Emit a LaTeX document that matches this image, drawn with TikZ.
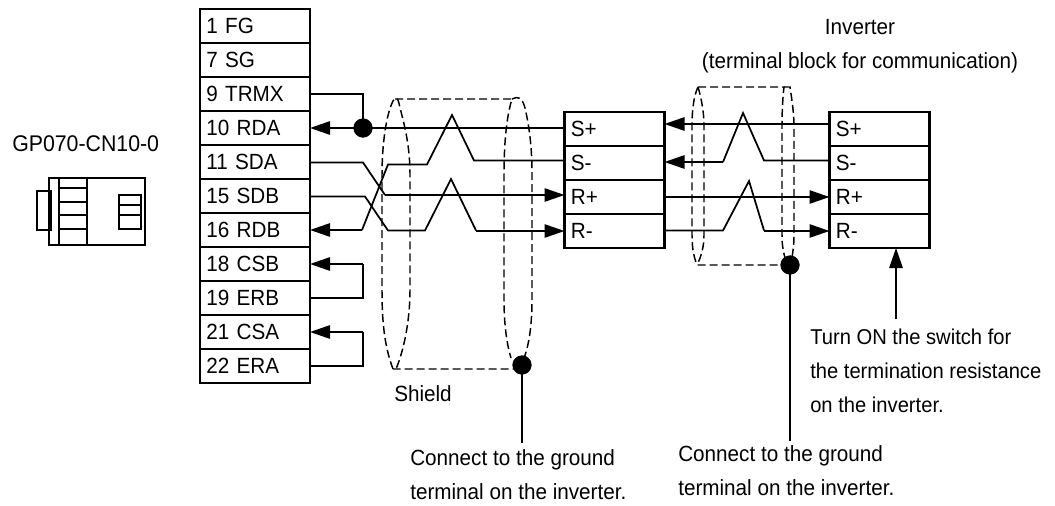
\documentclass[tikz,border=0pt]{standalone}
\usepackage{fontspec}
\setmainfont[FakeStretch=0.94]{Liberation Sans}
\usetikzlibrary{arrows.meta}
\usetikzlibrary{positioning}
\tikzset{auto,>={Triangle[length=15pt,width=10pt]}, x=0.75pt, y=-0.75pt, font=\fontsize{16.5}{25.5}\selectfont}
\tikzstyle{wire} = [line width=1.3pt]
\tikzstyle{pinbox} = [draw, line width=1.7pt, rectangle, minimum height=25.5pt, minimum width=82.5pt, outer sep=0pt, inner sep=4pt, text width=73pt, align=left, text height=11.5pt, text depth=0pt]
\tikzstyle{termbox} = [pinbox, minimum width=75pt, text width=65.5pt]
\tikzstyle{joint} = [draw, circle, fill, minimum size=14pt, inner sep=0pt, outer sep=0pt]
\tikzstyle{output} = [coordinate]
\tikzstyle{label} = [align=left, anchor=north west, inner sep=0pt]
\tikzstyle{shield} = [line width=1.1pt, dash pattern=on 6pt off 3pt]
\newcommand{\twist}[4]{(#1,#3) -- (#1+26,#4) -- (#2,#3)}
\begin{document}
\begin{tikzpicture}
			\useasboundingbox (0,0) rectangle (1055,506);

			% plug
			\node [label, font=\fontsize{17}{25.5}\selectfont] (gp) at (12,135) {GP070-CN10-0};
			\draw [wire] (49,178) rectangle (145,245);
			\draw [wire] (37,191) rectangle (51,230);
			\draw [wire] (59,178) -- (59,245);
			\draw [wire] (87,178) -- (87,245);
			\draw [wire] (59,188) -- (87,188);
			\draw [wire] (59,202) -- (87,202);
			\draw [wire] (59,215) -- (87,215);
			\draw [wire] (59,229) -- (87,229);
			\draw [wire] (119,195) rectangle (141,229);
			\draw [wire] (119,205) -- (141,205);
			\draw [wire] (119,215) -- (141,215);

			% pins of the plug
			\node [pinbox] (fg) at (255,26) {1 FG};
			\node [pinbox, below=0cm of fg] (sg) {7 SG};
			\node [pinbox, below=0cm of sg] (trmx) {9 TRMX};
			\node [pinbox, below=0cm of trmx] (rda) {10 RDA};
			\node [pinbox, below=0cm of rda] (sda) {11 SDA};
			\node [pinbox, below=0cm of sda] (sdb) {15 SDB};
			\node [pinbox, below=0cm of sdb] (rdb) {16 RDB};
			\node [pinbox, below=0cm of rdb] (csb) {18 CSB};
			\node [pinbox, below=0cm of csb] (erb) {19 ERB};
			\node [pinbox, below=0cm of erb] (csa) {21 CSA};
			\node [pinbox, below=0cm of csa] (era) {22 ERA};

			% first terminal block
			\node [termbox] (a_sp) at (614.5,129) {S+};
			\node [termbox, below=0cm of a_sp] (a_sm) {S-};
			\node [termbox, below=0cm of a_sm] (a_rp) {R+};
			\node [termbox, below=0cm of a_rp] (a_rm) {R-};

			% second terminal block
			\node [termbox, right=123.75pt of a_sp] (b_sp) {S+};
			\node [termbox, below=0cm of b_sp] (b_sm) {S-};
			\node [termbox, below=0cm of b_sm] (b_rp) {R+};
			\node [termbox, below=0cm of b_rp] (b_rm) {R-};

			\node [align=center, inner sep=0pt] (inverter) at (860,46) {Inverter\\(terminal block for communication)};

			% wires on the left
			\node [joint] (rda_j) at (363,128) {};
			\draw [wire] (trmx.east) -| (rda_j);
			\draw [wire, ->] (rda_j) -- (rda.east);
			\draw [wire] (rda_j) -- (a_sp.west |- rda_j);

			\draw [wire] (sda.east |- 0,162.5) -- (363,162.5) -- (385,195);
			\draw [wire, ->] (385,195) -- (a_rp.west |- 0,195);

			\draw [wire] (sdb.east |- 0,196.5) -- (365,196.5) -- (388,230.5) -- \twist{425}{476}{230.5}{179};
			\draw [wire, ->] (476,231) -- (a_rm.west);

			\draw [wire, ->] (362,230) -- (rdb.east);
			\draw [wire] (362,230) -- (388,164.5) -- (427,164.5) -- (452,115) -- (474,160.5) -- (a_sm.west |- 0,160.5);

			\draw [wire, ->] (363,264) -- (csb.east);
			\draw [wire] (363,264) |- (erb.east);
			\draw [wire, ->] (363,332) -- (csa.east);
			\draw [wire] (363,332) |- (era.east);

			% wires between the blocks
			\draw [wire, ->] (b_sp.west |- 0,124) -- (a_sp.east |- 0,124);
			\draw [wire, ->] (723,162) -- (a_sm.east |- 0,162);
			\draw [wire] (b_sm.west |- 0,160.5) -- (764,160.5) -- (743,113) -- (723,162);
			\draw [wire, ->] (a_rp.east |- 0,197) -- (b_rp.west |- 0,197);
			\draw [wire] (a_rm.east |- 0,230.5) -- \twist{723}{764}{230.5}{181};
			\draw [wire, ->] (764,231) -- (b_rm.west);

			% shields
			\draw [shield] (393,369) .. controls (384,345) and (382,320) .. (382,290) -- (382,175) .. controls (382,145) and (386,115) .. (393,101) .. controls (396,96) and (398,97) .. (400,108) .. controls (406,130) and (410,150) .. (410,175) -- (410,290) .. controls (410,320) and (404,350) .. (396,369) -- (393,369) -- (515,369);
			\draw [shield] (395,99) -- (512,99) .. controls (507,115) and (504,140) .. (504,175) -- (504,300) .. controls (504,325) and (507,345) .. (511,358);
			\draw [shield] (512,99) .. controls (518,96) and (522,97) .. (525,108) .. controls (530,130) and (532,150) .. (532,175) -- (532,300) .. controls (532,325) and (529,345) .. (524,358);

			\node [joint] (gnd_a) at (522,365) {};
			\node [output] (gnd_a_end) at (522,443) {};
			\draw [wire] (gnd_a) -- (gnd_a_end);

			\draw [shield] (698,87) -- (784,87) .. controls (783,95) and (782,110) .. (782,125) -- (782,235) .. controls (782,245) and (783,250) .. (785,258);
			\draw [shield] (698,87) .. controls (694,95) and (692,110) .. (692,125) -- (692,235) .. controls (692,245) and (693,255) .. (697,265) -- (782,265);
			\draw [shield] (698,87) .. controls (702,100) and (704,115) .. (704,125) -- (704,235) .. controls (704,245) and (702,255) .. (697,265);
			\draw [shield] (784,87) -- (790,87) .. controls (792,100) and (794,115) .. (794,125) -- (794,235) .. controls (794,245) and (793,250) .. (792,258);

			\node [joint] (gnd_b) at (790,265) {};
			\node [output] (gnd_b_end) at (790,441) {};
			\draw [wire] (gnd_b) -- (gnd_b_end);

			% notes
			\node [output] (note_end) at (896,319) {};
			\draw [wire, ->] (note_end) -- (b_rm.south -| note_end);

			\node [label] (shield_txt) at (394,385) {Shield};
			\node [label] (note_a) at (410,449) {Connect to the ground\\terminal on the inverter.};
			\node [label] (note_b) at (678,445) {Connect to the ground\\terminal on the inverter.};
			\node [label, font=\fontsize{16.1}{25.5}\selectfont] (note_c) at (810,329) {Turn ON the switch for\\the termination resistance\\on the inverter.};
		\end{tikzpicture}
\end{document}
